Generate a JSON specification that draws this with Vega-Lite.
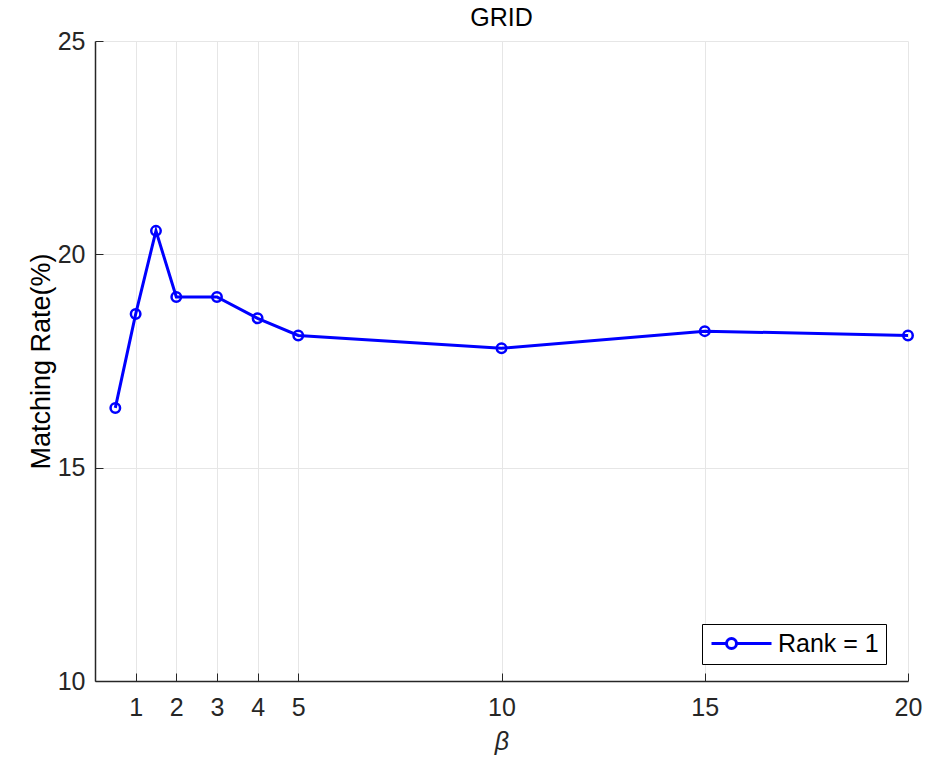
{
  "$schema": "https://vega.github.io/schema/vega-lite/v6.json",
  "width": 813,
  "height": 640,
  "autosize": {"type": "none"},
  "padding": {"left": 95, "top": 41, "right": 44, "bottom": 87},
  "background": "white",
  "title": {"text": "GRID", "fontSize": 25, "font": "Liberation Sans", "fontWeight": "normal", "color": "#000000", "offset": -2},
  "config": {
    "view": {"stroke": null},
    "font": "Liberation Sans"
  },
  "data": {"values": [
    {"beta": 0.5, "rate": 16.4, "series": "Rank = 1"},
    {"beta": 1, "rate": 18.6, "series": "Rank = 1"},
    {"beta": 1.5, "rate": 20.55, "series": "Rank = 1"},
    {"beta": 2, "rate": 19.0, "series": "Rank = 1"},
    {"beta": 3, "rate": 19.0, "series": "Rank = 1"},
    {"beta": 4, "rate": 18.5, "series": "Rank = 1"},
    {"beta": 5, "rate": 18.1, "series": "Rank = 1"},
    {"beta": 10, "rate": 17.8, "series": "Rank = 1"},
    {"beta": 15, "rate": 18.2, "series": "Rank = 1"},
    {"beta": 20, "rate": 18.1, "series": "Rank = 1"}
  ]},
  "mark": {"type": "line", "strokeWidth": 3, "point": {"shape": "circle", "filled": false, "size": 90, "strokeWidth": 2.5, "color": "#0000ff"}},
  "encoding": {
    "x": {
      "field": "beta", "type": "quantitative",
      "scale": {"domain": [0, 20], "nice": false, "zero": false},
      "axis": {
        "values": [1, 2, 3, 4, 5, 10, 15, 20],
        "title": "β", "titleFontStyle": "italic", "titleFontWeight": "normal", "titleFontSize": 25, "titleColor": "#262626", "titlePadding": 9,
        "labelFontSize": 25, "labelColor": "#262626", "labelPadding": 22, "labelFlush": false,
        "tickSize": -8, "tickColor": "#262626", "domainColor": "#262626", "domainWidth": 1.5,
        "grid": true, "gridColor": "#e6e6e6", "gridWidth": 1
      }
    },
    "y": {
      "field": "rate", "type": "quantitative",
      "scale": {"domain": [10, 25], "nice": false, "zero": false},
      "axis": {
        "values": [10, 15, 20, 25],
        "title": "Matching Rate(%)", "titleFontWeight": "normal", "titleFontSize": 27, "titleColor": "#000000", "titlePadding": 2,
        "labelFontSize": 25, "labelColor": "#262626", "labelPadding": 18, "labelFlush": false,
        "tickSize": -8, "tickColor": "#262626", "domainColor": "#262626", "domainWidth": 1.5,
        "grid": true, "gridColor": "#e6e6e6", "gridWidth": 1
      }
    },
    "color": {
      "field": "series", "type": "nominal",
      "scale": {"range": ["#0000ff"]},
      "legend": {
        "title": null, "orient": "none", "legendX": 607, "legendY": 583,
        "strokeColor": "#000000", "fillColor": "white", "padding": 7,
        "labelFontSize": 25, "labelColor": "#000000", "labelOffset": 44,
        "symbolType": "M-1,0L0.5,0M1.5,0L5,0M0.5,0A0.5,0.5 0 1,1 1.5,0A0.5,0.5 0 1,1 0.5,0Z",
        "symbolSize": 400, "symbolStrokeWidth": 3, "symbolFillColor": "transparent", "symbolStrokeColor": "#0000ff"
      }
    }
  }
}
